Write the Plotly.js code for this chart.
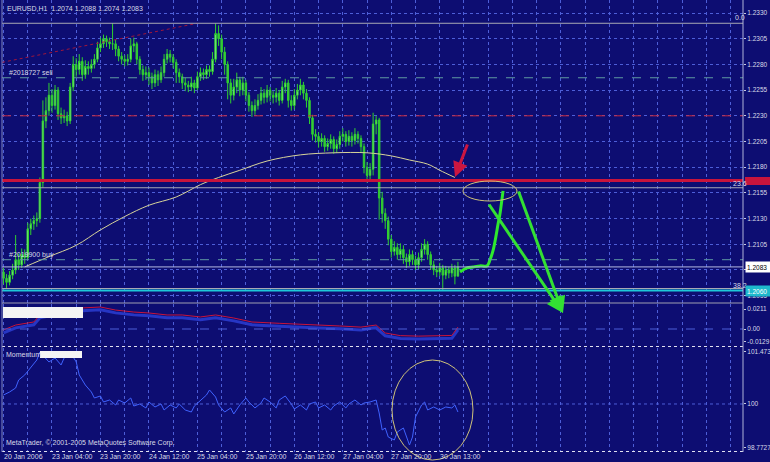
<!DOCTYPE html>
<html><head><meta charset="utf-8">
<script src="https://cdn.plot.ly/plotly-3.0.1.min.js"></script>
<style>html,body{margin:0;padding:0;background:#0d0d72;}#chart{width:770px;height:462px;}</style>
</head><body><div id="chart"></div>
<script>
// ---------- main price data (EURUSD H1) ----------
const openP = [
1.2078,1.2072,1.2068,1.2075,1.2080,1.2090,1.2085,1.2095,1.2092,1.2120,
1.2125,1.2128,1.2130,1.2165,1.2225,1.2235,1.2250,1.2240,1.2255,1.2232,
1.2228,1.2230,1.2225,1.2258,1.2280,1.2275,1.2283,1.2270,1.2278,1.2276,
1.2280,1.2285,1.2296,1.2300,1.2305,1.2302,1.2300,1.2300,1.2295,1.2288,
1.2285,1.2283,1.2285,1.2298,1.2300,1.2285,1.2275,1.2270,1.2272,1.2268,
1.2262,1.2270,1.2265,1.2272,1.2285,1.2290,1.2287,1.2282,1.2272,1.2268,
1.2262,1.2260,1.2258,1.2262,1.2257,1.2268,1.2272,1.2270,1.2275,1.2273,
1.2285,1.2310,1.2305,1.2292,1.2280,1.2262,1.2250,1.2258,1.2265,1.2255,
1.2262,1.2250,1.2240,1.2235,1.2240,1.2245,1.2252,1.2248,1.2255,1.2250,
1.2248,1.2252,1.2245,1.2258,1.2262,1.2245,1.2240,1.2250,1.2255,1.2260,
1.2252,1.2245,1.2228,1.2212,1.2210,1.2205,1.2208,1.2200,1.2203,1.2207,
1.2198,1.2202,1.2210,1.2212,1.2205,1.2210,1.2206,1.2212,1.2208,1.2200,
1.2180,1.2172,1.2178,1.2222,1.2226,1.2150,1.2135,1.2128,1.2110,1.2098,
1.2102,1.2095,1.2100,1.2092,1.2088,1.2095,1.2090,1.2085,1.2092,1.2100,
1.2105,1.2095,1.2085,1.2080,1.2078,1.2082,1.2075,1.2080,1.2077,1.2082,
1.2074];
const highP = [
1.2082,1.2076,1.2079,1.2086,1.2114,1.2096,1.2101,1.2100,1.2126,1.2130,
1.2133,1.2136,1.2170,1.2245,1.2248,1.2262,1.2256,1.2260,1.2258,1.2238,
1.2236,1.2234,1.2262,1.2288,1.2286,1.2290,1.2287,1.2284,1.2283,1.2285,
1.2290,1.2302,1.2306,1.2309,1.2308,1.2306,1.2320,1.2304,1.2298,1.2292,
1.2289,1.2290,1.2305,1.2306,1.2302,1.2288,1.2279,1.2278,1.2277,1.2272,
1.2275,1.2274,1.2278,1.2290,1.2295,1.2294,1.2290,1.2285,1.2276,1.2271,
1.2267,1.2264,1.2268,1.2265,1.2273,1.2277,1.2276,1.2279,1.2279,1.2292,
1.2320,1.2318,1.2309,1.2297,1.2283,1.2266,1.2266,1.2272,1.2268,1.2268,
1.2265,1.2253,1.2244,1.2246,1.2251,1.2258,1.2256,1.2260,1.2258,1.2254,
1.2257,1.2255,1.2264,1.2266,1.2265,1.2250,1.2256,1.2261,1.2266,1.2263,
1.2256,1.2248,1.2231,1.2217,1.2214,1.2213,1.2211,1.2208,1.2212,1.2210,
1.2207,1.2215,1.2218,1.2215,1.2216,1.2214,1.2218,1.2215,1.2211,1.2203,
1.2185,1.2184,1.2233,1.2230,1.2228,1.2156,1.2140,1.2132,1.2114,1.2108,
1.2106,1.2106,1.2104,1.2096,1.2100,1.2099,1.2094,1.2097,1.2106,1.2110,
1.2108,1.2098,1.2089,1.2084,1.2087,1.2085,1.2084,1.2083,1.2086,1.2085,
1.2088];
const lowP = [
1.2066,1.2062,1.2065,1.2071,1.2076,1.2080,1.2082,1.2086,1.2090,1.2114,
1.2119,1.2122,1.2126,1.2160,1.2218,1.2230,1.2233,1.2236,1.2226,1.2222,
1.2223,1.2220,1.2222,1.2254,1.2268,1.2270,1.2264,1.2266,1.2270,1.2272,
1.2276,1.2282,1.2292,1.2296,1.2297,1.2295,1.2294,1.2288,1.2283,1.2280,
1.2278,1.2279,1.2282,1.2292,1.2280,1.2270,1.2264,1.2265,1.2260,1.2256,
1.2258,1.2259,1.2262,1.2268,1.2281,1.2282,1.2276,1.2262,1.2262,1.2256,
1.2254,1.2253,1.2254,1.2252,1.2255,1.2264,1.2265,1.2266,1.2268,1.2270,
1.2282,1.2298,1.2285,1.2270,1.2246,1.2242,1.2245,1.2252,1.2249,1.2250,
1.2244,1.2234,1.2229,1.2231,1.2236,1.2241,1.2242,1.2243,1.2244,1.2242,
1.2243,1.2240,1.2242,1.2252,1.2238,1.2235,1.2236,1.2246,1.2250,1.2246,
1.2238,1.2222,1.2206,1.2204,1.2199,1.2200,1.2195,1.2196,1.2198,1.2193,
1.2194,1.2198,1.2205,1.2200,1.2201,1.2200,1.2202,1.2203,1.2194,1.2174,
1.2165,1.2166,1.2172,1.2212,1.2129,1.2126,1.2120,1.2104,1.2092,1.2094,
1.2090,1.2091,1.2086,1.2082,1.2084,1.2085,1.2080,1.2081,1.2088,1.2095,
1.2090,1.2080,1.2075,1.2073,1.2074,1.2060,1.2071,1.2072,1.2073,1.2066,
1.2074];
const closeP = [
1.2072,1.2068,1.2075,1.2080,1.2090,1.2085,1.2095,1.2092,1.2120,1.2125,
1.2128,1.2130,1.2165,1.2225,1.2235,1.2250,1.2240,1.2255,1.2232,1.2228,
1.2230,1.2225,1.2258,1.2280,1.2275,1.2283,1.2270,1.2278,1.2276,1.2280,
1.2285,1.2296,1.2300,1.2305,1.2302,1.2300,1.2300,1.2295,1.2288,1.2285,
1.2283,1.2285,1.2298,1.2300,1.2285,1.2275,1.2270,1.2272,1.2268,1.2262,
1.2270,1.2265,1.2272,1.2285,1.2290,1.2287,1.2282,1.2272,1.2268,1.2262,
1.2260,1.2258,1.2262,1.2257,1.2268,1.2272,1.2270,1.2275,1.2273,1.2285,
1.2310,1.2305,1.2292,1.2280,1.2262,1.2250,1.2258,1.2265,1.2255,1.2262,
1.2250,1.2240,1.2235,1.2240,1.2245,1.2252,1.2248,1.2255,1.2250,1.2248,
1.2252,1.2245,1.2258,1.2262,1.2245,1.2240,1.2250,1.2255,1.2260,1.2252,
1.2245,1.2228,1.2212,1.2210,1.2205,1.2208,1.2200,1.2203,1.2207,1.2198,
1.2202,1.2210,1.2212,1.2205,1.2210,1.2206,1.2212,1.2208,1.2200,1.2180,
1.2172,1.2178,1.2222,1.2226,1.2150,1.2135,1.2128,1.2110,1.2098,1.2102,
1.2095,1.2100,1.2092,1.2088,1.2095,1.2090,1.2085,1.2092,1.2100,1.2105,
1.2095,1.2085,1.2080,1.2078,1.2082,1.2075,1.2080,1.2077,1.2082,1.2074,
1.2083];
const barIdx = closeP.map((_, i) => i);

// long moving average (sparse vertices)
const maX = [7,15,24,32,40,48,57,65,71,78,87,98,109,120,128,134,140,144,149];
const maY = [1.2083,1.2093,1.2104,1.2119,1.2132,1.2143,1.2151,1.2163,1.2170,1.2177,1.2186,1.2192,1.2194,1.2194,1.2191,1.2187,1.2183,1.2177,1.2170];

// dotted red trend line
const trendX = [-0.5, 64];
const trendY = [1.2282, 1.2320];

// hand-drawn green line
const greenX = [150.7,153,155,157.3,159.6,160.6,161.6,162.5,163.2,163.9,164.5,164.9];
const greenY = [1.2078,1.2082,1.2083,1.2084,1.2084,1.2090,1.2099,1.2112,1.2124,1.2135,1.2148,1.2157];

// horizontal levels
const fib0 = 1.2320, fib236 = 1.2160, fib382 = 1.2062;
const redLevel = 1.2167, cyanLevel = 1.2060, bidLevel = 1.2083;
const slLevel = 1.2230, sellLevel = 1.2267, buyLevel = 1.2090;

// right price scale
const mainTicks = [1.2055,1.2080,1.2105,1.2130,1.2155,1.2180,1.2205,1.2230,1.2255,1.2280,1.2305,1.2330];
const mainTickText = ['1.2055','1.2080','1.2105','1.2130','1.2155','1.2180','1.2205','1.2230','1.2255','1.2280','1.2305','1.2330'];

// indicator window 1
const p2X = [0,4,10,12,19,26,32,37,43,48,54,59,65,70,76,82,91,98,104,111,118,122,123,126,131,137,144,148,150];
const p2Red = [-0.0010,0.0042,0.0074,0.0148,0.0190,0.0222,0.0232,0.0200,0.0179,0.0169,0.0148,0.0148,0.0127,0.0148,0.0116,0.0074,0.0060,0.0053,0.0040,0.0032,0.0020,0.0040,0.0042,-0.0042,-0.0070,-0.0075,-0.0072,-0.0068,0.0020];
const p2Blue = [-0.0040,0.0012,0.0044,0.0118,0.0160,0.0192,0.0202,0.0170,0.0149,0.0139,0.0118,0.0118,0.0097,0.0118,0.0086,0.0044,0.0030,0.0023,0.0010,0.0002,-0.0010,0.0010,0.0012,-0.0072,-0.0100,-0.0105,-0.0102,-0.0098,-0.0010];
const p2Ticks = [0.0211, 0, -0.0129];
const p2TickText = ['0.0211','0.00','-0.0129'];

// Momentum window
const mX = [0,2,4,5,7,9,11,12,14,15,17,19,20,22,24,25,27,29,30,32,33,35,37,38,40,42,43,45,47,48,50,52,53,55,57,58,60,62,63,65,67,68,70,71,73,75,76,78,80,81,83,85,86,88,90,91,93,95,96,98,100,101,103,104,106,108,109,111,113,114,116,118,119,121,123,124,125,126,127,129,130,132,133,134,135,136,138,139,140,142,144,146,148,149,150];
const mVal = [100.255,100.340,100.453,100.680,100.822,101.020,101.247,101.473,101.303,101.190,
101.303,101.105,101.303,101.473,101.190,100.822,100.538,100.340,100.170,100.227,
100.057,100.113,99.972,100.113,100.028,100.170,99.943,100.000,99.887,100.057,
99.915,100.000,99.830,99.972,99.887,100.000,99.830,99.773,99.943,100.113,
100.255,100.397,100.198,99.972,99.773,99.887,99.717,99.972,100.170,100.057,
99.887,100.028,100.170,100.057,99.887,100.113,100.227,100.000,99.858,99.972,
99.830,100.000,100.057,99.887,99.972,99.830,99.943,100.057,99.887,100.000,
100.113,99.972,100.028,100.057,100.113,99.745,99.263,99.320,99.065,98.980,
99.207,99.320,99.065,98.838,99.065,99.632,99.972,100.057,99.830,99.915,
99.830,99.915,99.887,99.972,99.773];
const mTicks = [101.473, 100, 98.7727];
const mTickText = ['101.473','100','98.7727'];

// time axis labels
const timeLabelBars = [0,16,32,48,64,80,96,112,128,144];
const timeLabels = ['20 Jan 2006','23 Jan 04:00','23 Jan 20:00','24 Jan 12:00','25 Jan 04:00','25 Jan 20:00','26 Jan 12:00','27 Jan 04:00','27 Jan 20:00','30 Jan 13:00'];

// ---------- layout helpers (pixel -> paper) ----------
const W = 770, H = 462, ML = 2, MR = 27, MT = 0, MB = 10;
const PW = W - ML - MR, PH = H - MT - MB;
const px = x => (x - ML) / PW;
const py = y => 1 - (y - MT) / PH;
const FONT = 'Liberation Sans, Arial, sans-serif';
const TXT = '#d8dae8';
const BG = '#0d0d72';
const GRID = '#4d5ed8';

const traces = [
  {type:'scatter', mode:'lines', x:trendX, y:trendY, xaxis:'x', yaxis:'y',
   line:{color:'#a0163c', width:1, dash:'dot'}, hoverinfo:'skip'},
  {type:'scatter', mode:'lines', x:maX, y:maY, xaxis:'x', yaxis:'y',
   line:{color:'#d8d49a', width:1, shape:'spline'}, hoverinfo:'skip'},
  {type:'candlestick', x:barIdx, open:openP, high:highP, low:lowP, close:closeP, xaxis:'x', yaxis:'y',
   increasing:{line:{color:'#2fd02f', width:1}, fillcolor:'#9cf49c'},
   decreasing:{line:{color:'#2fd02f', width:1}, fillcolor:'#3cc83c'},
   whiskerwidth:0, hoverinfo:'skip'},
  {type:'scatter', mode:'lines', x:greenX, y:greenY, xaxis:'x', yaxis:'y',
   line:{color:'#2ee82e', width:3, shape:'spline'}, hoverinfo:'skip'},
  {type:'scatter', mode:'lines', x:p2X, y:p2Blue, xaxis:'x', yaxis:'y2',
   line:{color:'#2636c4', width:3}, hoverinfo:'skip'},
  {type:'scatter', mode:'lines', x:p2X, y:p2Red, xaxis:'x', yaxis:'y2',
   line:{color:'#c8143c', width:1}, hoverinfo:'skip'},
  {type:'scatter', mode:'lines', x:mX, y:mVal, xaxis:'x', yaxis:'y3',
   line:{color:'#3f62ff', width:1}, hoverinfo:'skip'}
];

function hline(y, color, width, dash, yref){
  return {type:'line', xref:'paper', yref:yref||'y', x0:0, x1:1, y0:y, y1:y,
          line:{color:color, width:width, dash:dash||'solid'}};
}
function pline(y, color, width, dash){
  return {type:'line', xref:'paper', yref:'paper', x0:0, x1:1, y0:py(y), y1:py(y),
          line:{color:color, width:width, dash:dash||'solid'}};
}

const shapes = [
  hline(sellLevel, '#5f9aa2', 1, 'dash'),
  hline(buyLevel, '#5f9aa2', 1, 'dash'),
  hline(slLevel, '#c8283c', 1, 'dash'),
  hline(fib0, '#a8a8b4', 1),
  hline(fib236, '#a8a8b4', 1),
  hline(fib382, '#a8a8b4', 1),
  hline(bidLevel, '#b4b8e0', 1),
  hline(cyanLevel, '#1ec8d8', 2),
  hline(redLevel, '#c8143c', 3),
  hline(0, GRID, 1, 'dash', 'y2'),
  hline(100, GRID, 1, 'dot', 'y3'),
  pline(303, '#a0a0b0', 1),
  pline(346.5, '#e0e0f0', 1, 'dot'),
  pline(451.5, '#e0e0f0', 1, 'dot'),
  {type:'line', xref:'paper', yref:'paper', x0:1, x1:1, y0:0, y1:1, line:{color:'#b0b4d8', width:1}},
  {type:'line', xref:'paper', yref:'paper', x0:0, x1:0, y0:0, y1:1, line:{color:'#8088c0', width:1}},
  // red price tag
  {type:'rect', xref:'paper', yref:'paper', x0:px(745), x1:px(770), y0:py(185), y1:py(177),
   fillcolor:'#c8143c', line:{width:0}},
  // blank indicator name boxes
  {type:'rect', xref:'paper', yref:'paper', x0:px(3), x1:px(83), y0:py(318), y1:py(307),
   fillcolor:'#f4f4f4', line:{width:0}},
  {type:'rect', xref:'paper', yref:'paper', x0:px(40), x1:px(82), y0:py(358), y1:py(351),
   fillcolor:'#f4f4f4', line:{width:0}},
  // ellipses
  {type:'circle', xref:'paper', yref:'paper', x0:px(463), x1:px(517), y0:py(201), y1:py(181),
   line:{color:'#cfc27a', width:1}},
  {type:'circle', xref:'paper', yref:'paper', x0:px(392), x1:px(473), y0:py(460), y1:py(360),
   line:{color:'#cfc27a', width:1}}
];

function txt(x, y, t, opts){
  return Object.assign({xref:'paper', yref:'paper', x:px(x), y:py(y), text:t, showarrow:false,
    xanchor:'left', yanchor:'middle', font:{family:FONT, size:7, color:TXT}}, opts||{});
}

const annotations = [
  txt(5, 8, 'EURUSD,H1  1.2074 1.2088 1.2074 1.2083'),
  txt(7, 73, '#2018727 sell'),
  txt(7, 255, '#2019900 buy'),
  txt(733, 18, '0.0'),
  txt(731, 183, '23.6'),
  txt(731, 285, '38.2'),
  txt(4, 354, 'Momentum'),
  txt(4, 443, 'MetaTrader, \u00a9 2001-2005 MetaQuotes Software Corp.'),
  {xref:'paper', yref:'y', x:px(745), y:bidLevel, text:'1.2083', showarrow:false, xanchor:'left', yanchor:'middle',
   bgcolor:'#ffffff', width:22, height:8, borderpad:1, align:'left', font:{family:FONT, size:6.5, color:'#000000'}},
  {xref:'paper', yref:'y', x:px(745), y:cyanLevel, text:'1.2060', showarrow:false, xanchor:'left', yanchor:'middle',
   bgcolor:'#1eb8cc', width:22, height:8, borderpad:1, align:'left', font:{family:FONT, size:6.5, color:'#ffffff'}},
  // hand-drawn arrows
  {xref:'paper', yref:'paper', x:px(563), y:py(313), ax:-75, ay:-110, text:'', showarrow:true,
   arrowhead:2, arrowsize:1.1, arrowwidth:3, arrowcolor:'#33e033'},
  {xref:'paper', yref:'paper', x:px(563), y:py(313), ax:-45, ay:-123, text:'', showarrow:true,
   arrowhead:2, arrowsize:1.1, arrowwidth:3, arrowcolor:'#33e033'},
  {xref:'paper', yref:'paper', x:px(455), y:py(177), ax:13, ay:-34, text:'', showarrow:true,
   arrowhead:2, arrowsize:1, arrowwidth:3, arrowcolor:'#cc1640'}
];
timeLabelBars.forEach((b, k) => {
  annotations.push({xref:'x', yref:'paper', x:b, y:py(456.5), text:timeLabels[k], showarrow:false,
    xanchor:'left', yanchor:'middle', xshift:-2, font:{family:FONT, size:7, color:TXT}});
});

const yCommon = {side:'right', anchor:'x', ticks:'outside', ticklen:2, tickcolor:'#c8cade',
  tickfont:{family:FONT, size:6.5, color:TXT}, zeroline:false, showline:false, fixedrange:true};

const layout = {
  width:W, height:H, margin:{l:ML, r:MR, t:MT, b:MB, pad:0},
  paper_bgcolor:BG, plot_bgcolor:BG, showlegend:false,
  xaxis:{domain:[0,1], range:[-0.5, 244.1], anchor:'y3', showticklabels:false, ticks:'',
         showgrid:true, gridcolor:GRID, griddash:'dot', gridwidth:1, dtick:8, tick0:0,
         zeroline:false, showline:false, rangeslider:{visible:false}, fixedrange:true},
  yaxis:Object.assign({}, yCommon, {domain:[py(303),1], range:[1.204789,1.234265],
         tickvals:mainTicks, ticktext:mainTickText, showgrid:true, gridcolor:GRID, griddash:'dot'}),
  yaxis2:Object.assign({}, yCommon, {domain:[py(346),py(304)], range:[-0.01794,0.02638],
         tickvals:p2Ticks, ticktext:p2TickText, showgrid:false}),
  yaxis3:Object.assign({}, yCommon, {domain:[0,py(348)], range:[98.640,101.586],
         tickvals:mTicks, ticktext:mTickText, showgrid:false}),
  shapes:shapes, annotations:annotations
};

Plotly.newPlot('chart', traces, layout, {staticPlot:true, displayModeBar:false});
</script>
</body></html>
